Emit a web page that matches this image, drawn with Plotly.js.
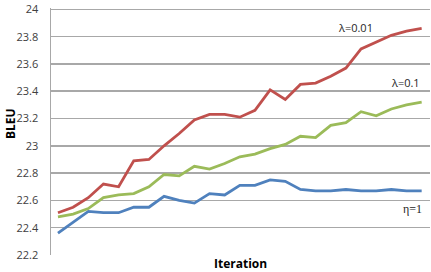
<!DOCTYPE html>
<html><head><meta charset="utf-8">
<script src="https://cdn.plot.ly/plotly-3.0.1.min.js"></script>
<style>html,body{margin:0;padding:0;background:#fff}#c{width:431px;height:272px}</style>
</head><body><div id="c"></div>
<script>
const iterations = [1,2,3,4,5,6,7,8,9,10,11,12,13,14,15,16,17,18,19,20,21,22,23,24,25];
const lambda001 = [22.51,22.55,22.62,22.72,22.70,22.89,22.90,23.00,23.09,23.19,23.23,23.23,23.21,23.26,23.41,23.34,23.45,23.46,23.51,23.57,23.71,23.76,23.81,23.84,23.86];
const lambda01 = [22.48,22.50,22.54,22.62,22.64,22.65,22.70,22.79,22.78,22.85,22.83,22.87,22.92,22.94,22.98,23.01,23.07,23.06,23.15,23.17,23.25,23.22,23.27,23.30,23.32];
const eta1 = [22.36,22.44,22.52,22.51,22.51,22.55,22.55,22.63,22.60,22.58,22.65,22.64,22.71,22.71,22.75,22.74,22.68,22.67,22.67,22.68,22.67,22.67,22.68,22.67,22.67];
const yTicks = [22.2,22.4,22.6,22.8,23,23.2,23.4,23.6,23.8,24];

const mk = (y, c) => ({x: iterations, y: y, type: 'scatter', mode: 'lines', line: {color: c, width: 2.8}, hoverinfo: 'none'});
const data = [mk(eta1, '#4F81BD'), mk(lambda01, '#9BBB59'), mk(lambda001, '#C0504D')];

const F = 'Open Sans, Liberation Sans, sans-serif';
const GRID = '#a8a8a8';
const ann = (text, px, py, font, extra) => Object.assign({text: text, xref: 'paper', yref: 'paper',
  x: (px-51)/379, y: (255-py)/249, xanchor: 'center', yanchor: 'middle', showarrow: false, font: font}, extra || {});

const layout = {
  width: 431, height: 272,
  margin: {l: 51, r: 1, t: 8, b: 17, pad: 0},
  paper_bgcolor: '#fff', plot_bgcolor: '#fff',
  showlegend: false,
  font: {family: F, size: 11, color: '#404040'},
  xaxis: {range: [0.54, 25.55], showticklabels: false, showgrid: false, zeroline: false,
          showline: false, ticks: ''},
  yaxis: {range: [22.2, 24.01], tickmode: 'array', tickvals: yTicks, ticktext: yTicks.map(v => String(v)),
          showgrid: true, gridcolor: GRID, gridwidth: 1.5, zeroline: false,
          showline: true, linecolor: GRID, linewidth: 1.5,
          ticks: 'outside', ticklen: 9, tickcolor: 'rgba(0,0,0,0)',
          tickfont: {family: F, size: 11, color: '#404040'}},
  annotations: [
    ann('λ=0.01', 355, 26, {family: F, size: 11, color: '#262626'}),
    ann('λ=0.1', 405, 81, {family: F, size: 11, color: '#262626'}),
    ann('η=1', 412, 209, {family: 'Liberation Serif, serif', size: 12, color: '#262626'}),
    ann('<b>BLEU</b>', 10, 123, {family: F, size: 12, color: '#000'}, {textangle: -90}),
    ann('<b>Iteration</b>', 240, 264, {family: F, size: 12, color: '#000'})
  ]
};
Plotly.newPlot('c', data, layout, {staticPlot: true, displayModeBar: false});
</script></body></html>
